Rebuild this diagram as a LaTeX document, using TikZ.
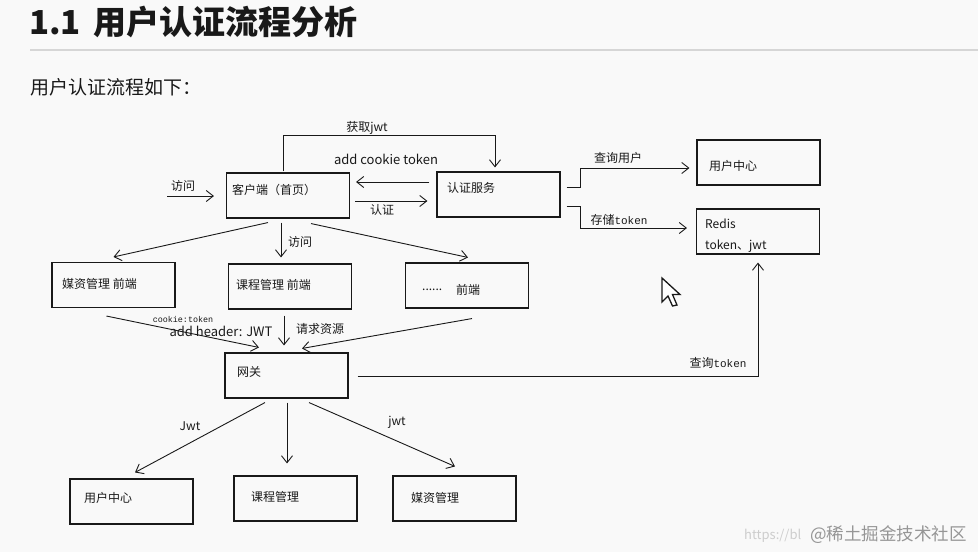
\documentclass[tikz,border=0pt]{standalone}
\usepackage{fontspec}
\setmainfont{Noto Sans CJK SC}
\newfontfamily\monof{Liberation Mono}
\usetikzlibrary{arrows.meta,calc}
\definecolor{bg}{RGB}{249,249,249}
\definecolor{ink}{RGB}{25,25,25}
\definecolor{rulegray}{RGB}{214,214,214}
\definecolor{wm}{RGB}{150,150,150}
\definecolor{wmlight}{RGB}{205,205,205}
\begin{document}
\begin{tikzpicture}[x=1pt,y=-1pt,
  box/.style={draw=ink,line width=1.1pt,minimum width=123pt,minimum height=45pt,inner sep=0pt},
  txt/.style={anchor=west,inner sep=0pt,text=ink,font=\fontsize{12}{14}\selectfont},
  lbl/.style={inner sep=0pt,text=ink,font=\fontsize{12}{14}\selectfont},
  arr/.style={draw=ink,line width=0.9pt,-{Straight Barb[length=7pt,width=11pt,line width=0.9pt]}},
  ln/.style={draw=ink,line width=0.9pt}]
\fill[bg] (0,0) rectangle (978,552);
\useasboundingbox (0,0) rectangle (978,552);
% header
\node[anchor=west,inner sep=0pt,text=ink,font=\fontsize{33}{36}\selectfont\bfseries] (title) at (29,22) {1.1\hspace{5pt} 用户认证流程分析};
\draw[line width=1.2pt,rulegray] (30,50) -- (978,50);
\node[anchor=west,inner sep=0pt,text=ink,font=\fontsize{19}{21}\selectfont] (sub) at (30,87) {用户认证流程如下：};
% boxes
\node[box] (client) at (288,195.5) {};
\node[box] (auth) at (498.5,194.5) {};
\node[box] (uc1) at (758.5,162.5) {};
\node[box] (redis) at (758,231.5) {};
\node[box] (mf) at (113.5,285) {};
\node[box] (cf) at (290,286.5) {};
\node[box] (of) at (467,285.5) {};
\node[box] (gw) at (286.5,375.5) {};
\node[box] (uc2) at (131.5,501.5) {};
\node[box] (cm) at (295.5,498.5) {};
\node[box] (mm) at (454.5,498.5) {};
% box texts
\node[txt] (tclient) at (232,190) {客户端（首页）};
\node[txt] (tauth) at (447,188) {认证服务};
\node[txt] (tuc1) at (709,166) {用户中心};
\node[txt] (tredis1) at (705,224) {Redis};
\node[txt] (tredis2) at (705,246) {token、jwt};
\node[txt] (tmf) at (62,284) {媒资管理 前端};
\node[txt] (tcf) at (236,285) {课程管理 前端};
\node[txt] (tofa) at (422,290) {......};
\node[txt] (tofb) at (456,290) {前端};
\node[txt] (tgw) at (237,372) {网关};
\node[txt] (tuc2) at (84,498) {用户中心};
\node[txt] (tcm) at (251,497) {课程管理};
\node[txt] (tmm) at (411,498) {媒资管理};
% entry arrow
\coordinate (visit) at (167,196);
\draw[arr] (visit) -- ($(client.west)+(-12,0.5)$);
\node[lbl] (lvisit) at (183,186) {访问};
% client <-> auth
\draw[ln] ($(client.north)+(-5,-1)$) |- ($(auth.north)+(-3.5,-36)$);
\draw[arr] ($(auth.north)+(-3.5,-36)$) -- ($(auth.north)+(-3.5,-4)$);
\node[lbl] (ljwt) at (367,128) {获取jwt};
\draw[arr] ($(auth.west)+(-7,-12.5)$) -- ($(client.east)+(6,-13.5)$);
\node[lbl,font=\fontsize{13}{15}\selectfont] (lcookie) at (386,159) {add cookie token};
\draw[arr] ($(client.east)+(5,5.5)$) -- ($(auth.west)+(-9,6.5)$);
\node[lbl] (lauth) at (382,210) {认证};
% auth -> user center / redis
\draw[arr] ($(auth.east)+(6,-7.5)$) -- ++(14,0) |- ($(uc1.west)+(-7,5.5)$);
\node[lbl] (lquser) at (618,158) {查询用户};
\draw[arr] ($(auth.east)+(6,11.5)$) -- ++(14,0) |- ($(redis.west)+(-9,-3.5)$);
\node[lbl] (lstore) at (619,220) {存储{\monof\fontsize{11}{13}\selectfont token}};
% client -> fronts
\draw[arr] ($(client.south)+(-20,4)$) -- ($(mf.north)+(0,-5)$);
\draw[arr] ($(client.south)+(-7,4)$) -- ($(cf.north)+(-9,-6)$);
\node[lbl] (lvisit2) at (300,242) {访问};
\draw[arr] ($(client.south)+(23,5)$) -- ($(of.north)+(1,-5)$);
% fronts -> gateway
\draw[arr] ($(mf.south)+(-7,8)$) -- ($(gw.north)+(-27.5,-5)$);
\draw[arr] ($(cf.south)+(-6,6)$) -- ($(gw.north)+(-2.5,-7)$);
\draw[arr] ($(of.south)+(5,10)$) -- ($(gw.north)+(15.5,-4)$);
\node[lbl,font=\monof\fontsize{8.4}{10}\selectfont] (lcookie2) at (183,319) {cookie:token};
\node[lbl,font=\fontsize{13}{15}\selectfont] (lheader) at (221,331) {add header: JWT};
\node[lbl] (lreq) at (320,329) {请求资源};
% gateway -> redis
\draw[arr] ($(gw.east)+(9,0.5)$) -| ($(redis.south)+(0,8)$);
\node[lbl] (lqtoken) at (718,363) {查询{\monof\fontsize{11}{13}\selectfont token}};
% gateway -> services
\draw[arr] ($(gw.south)+(-21.5,4)$) -- ($(uc2.north)+(3.5,-6)$);
\draw[arr] ($(gw.south)+(0.5,4)$) -- ($(cm.north)+(-8.5,-12)$);
\draw[arr] ($(gw.south)+(22.5,4)$) -- ($(mm.north)+(0.5,-9)$);
\node[lbl] (lJwt) at (190,426) {Jwt};
\node[lbl] (ljwt2) at (397,422) {jwt};
% mouse cursor
\draw[ink,fill=white,line width=1.3pt,line join=miter] (662,278) -- ++(0,24) -- ++(6,-6) -- ++(4.5,10) -- ++(4.5,-1) -- ++(-4.5,-10.5) -- ++(7.5,0) -- cycle;
% watermark
\node[anchor=west,inner sep=0pt,text=wmlight,font=\fontsize{13}{15}\selectfont] (wm1) at (744,536) {https://bl};
\node[anchor=west,inner sep=0pt,text=wm,font=\fontsize{17.5}{20}\selectfont] (wm2) at (810,535) {@稀土掘金技术社区};
\end{tikzpicture}
\end{document}
